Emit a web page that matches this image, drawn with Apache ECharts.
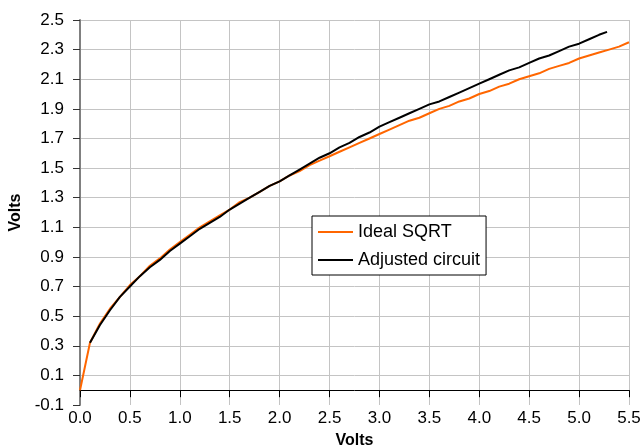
<!DOCTYPE html>
<html>
<head>
<meta charset="utf-8">
<script src="https://cdn.jsdelivr.net/npm/echarts@6/dist/echarts.min.js"></script>
<style>
  html, body { margin: 0; padding: 0; background: #fff; }
  #chart { width: 643px; height: 448px; }
</style>
</head>
<body>
<div id="chart"></div>
<script>
// Input voltage samples for the ideal square-root curve
const idealX = [0.0, 0.1, 0.2, 0.3, 0.4, 0.5, 0.6, 0.7, 0.8, 0.9, 1.0, 1.1, 1.2, 1.3, 1.4, 1.5, 1.6, 1.7, 1.8, 1.9,
  2.0, 2.1, 2.2, 2.3, 2.4, 2.5, 2.6, 2.7, 2.8, 2.9, 3.0, 3.1, 3.2, 3.3, 3.4, 3.5, 3.6, 3.7, 3.8, 3.9,
  4.0, 4.1, 4.2, 4.3, 4.4, 4.5, 4.6, 4.7, 4.8, 4.9, 5.0, 5.1, 5.2, 5.3, 5.4, 5.5];
const idealY = [0.00, 0.32, 0.45, 0.55, 0.63, 0.71, 0.77, 0.84, 0.89, 0.95, 1.00, 1.05, 1.10, 1.14, 1.18, 1.22, 1.27, 1.30, 1.34, 1.38,
  1.41, 1.45, 1.48, 1.52, 1.55, 1.58, 1.61, 1.64, 1.67, 1.70, 1.73, 1.76, 1.79, 1.82, 1.84, 1.87, 1.90, 1.92, 1.95, 1.97,
  2.00, 2.02, 2.05, 2.07, 2.10, 2.12, 2.14, 2.17, 2.19, 2.21, 2.24, 2.26, 2.28, 2.30, 2.32, 2.35];

// Measured output of the adjusted circuit
const circuitX = [0.1, 0.2, 0.3, 0.4, 0.5, 0.6, 0.7, 0.8, 0.9, 1.0, 1.1, 1.2, 1.3, 1.4, 1.5, 1.6, 1.7, 1.8, 1.9,
  2.0, 2.1, 2.2, 2.3, 2.4, 2.5, 2.6, 2.7, 2.8, 2.9, 3.0, 3.1, 3.2, 3.3, 3.4, 3.5, 3.6, 3.7, 3.8, 3.9,
  4.0, 4.1, 4.2, 4.3, 4.4, 4.5, 4.6, 4.7, 4.8, 4.9, 5.0, 5.1, 5.2, 5.28];
const circuitY = [0.32, 0.44, 0.54, 0.63, 0.70, 0.77, 0.83, 0.88, 0.94, 0.99, 1.04, 1.09, 1.13, 1.17, 1.22, 1.26, 1.30, 1.34, 1.38,
  1.41, 1.45, 1.49, 1.53, 1.57, 1.60, 1.64, 1.67, 1.71, 1.74, 1.78, 1.81, 1.84, 1.87, 1.90, 1.93, 1.95, 1.98, 2.01, 2.04,
  2.07, 2.10, 2.13, 2.16, 2.18, 2.21, 2.24, 2.26, 2.29, 2.32, 2.34, 2.37, 2.40, 2.42];

const seriesNames = ['Ideal SQRT', 'Adjusted circuit'];
const axisTitle = 'Volts';

const FONT = '"Liberation Sans", Arial, sans-serif';
const pair = (xs, ys) => xs.map((x, i) => [x, ys[i]]);

const el = document.getElementById('chart');
const chart = echarts.init(el, null, { renderer: 'canvas' });

const GRID = { left: 80, right: 14, top: 20, bottom: 43 };
const Y_MIN = -0.1, Y_MAX = 2.5;
// the horizontal axis sits at 0 V, a little above the bottom of the plot
const plotH = el.clientHeight - GRID.top - GRID.bottom;
const zeroLift = plotH * (0 - Y_MIN) / (Y_MAX - Y_MIN);

chart.setOption({
  animation: false,
  backgroundColor: '#ffffff',
  grid: Object.assign({ containLabel: false, outerBoundsMode: 'none' }, GRID),
  legend: {
    orient: 'vertical',
    left: 312,
    top: 216,
    padding: [6, 6, 5, 6],
    itemGap: 8,
    itemWidth: 35,
    itemHeight: 2,
    icon: 'rect',
    borderColor: '#000',
    borderWidth: 1,
    backgroundColor: '#fff',
    textStyle: { fontFamily: FONT, fontSize: 18, color: '#000', lineHeight: 20 },
    data: seriesNames
  },
  xAxis: {
    type: 'value',
    min: 0,
    max: 5.5,
    interval: 0.5,
    offset: -zeroLift,
    name: axisTitle,
    nameLocation: 'middle',
    nameGap: 42,
    nameTextStyle: { fontFamily: FONT, fontSize: 16, fontWeight: 'bold', color: '#000' },
    axisLine: { show: true, onZero: false, lineStyle: { color: '#000', width: 1 } },
    axisTick: { show: true, inside: false, length: 7, lineStyle: { color: '#000' } },
    axisLabel: { fontFamily: FONT, fontSize: 17, color: '#000', margin: 20,
      formatter: v => v.toFixed(1) },
    splitLine: { show: true, lineStyle: { color: '#c4c4c4', width: 1 } }
  },
  yAxis: {
    type: 'value',
    min: Y_MIN,
    max: Y_MAX,
    interval: 0.2,
    name: axisTitle,
    nameLocation: 'middle',
    nameGap: 54,
    nameTextStyle: { fontFamily: FONT, fontSize: 16, fontWeight: 'bold', color: '#000' },
    axisLine: { show: true, onZero: false, lineStyle: { color: '#808080', width: 2 } },
    axisTick: { show: true, inside: false, length: 7, lineStyle: { color: '#333' } },
    axisLabel: { fontFamily: FONT, fontSize: 17, color: '#000', margin: 16,
      formatter: v => v.toFixed(1) },
    splitLine: { show: true, showMinLine: false, lineStyle: { color: '#c4c4c4', width: 1 } }
  },
  series: [
    {
      name: seriesNames[0],
      type: 'line',
      data: pair(idealX, idealY),
      showSymbol: false,
      symbol: 'none',
      lineStyle: { color: '#ff6600', width: 2 },
      itemStyle: { color: '#ff6600' }
    },
    {
      name: seriesNames[1],
      type: 'line',
      data: pair(circuitX, circuitY),
      showSymbol: false,
      symbol: 'none',
      lineStyle: { color: '#000000', width: 2 },
      itemStyle: { color: '#000000' }
    }
  ]
});
</script>
</body>
</html>
